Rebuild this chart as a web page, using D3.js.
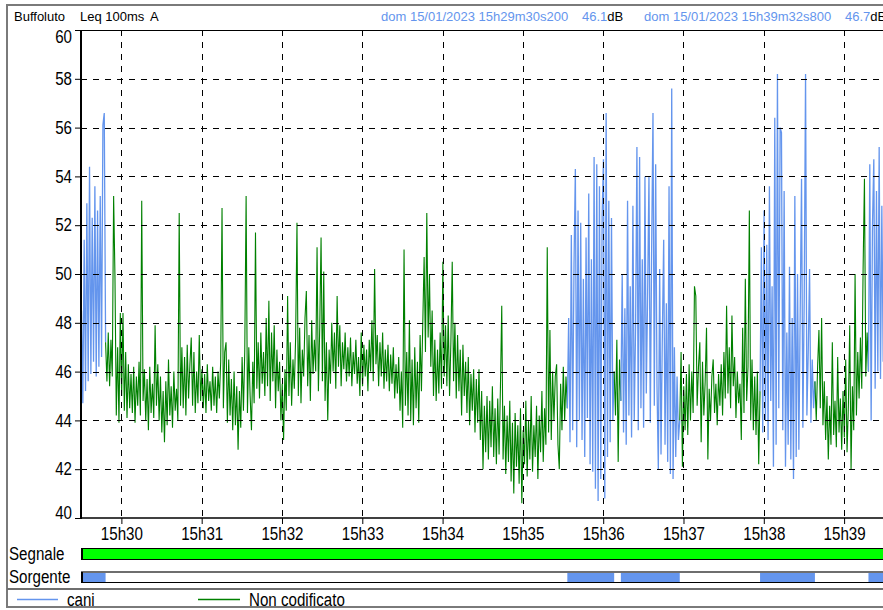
<!DOCTYPE html>
<html>
<head>
<meta charset="utf-8">
<script src="https://cdn.jsdelivr.net/npm/d3@7"></script>
<style>
  body { margin: 0; background: #fff; }
  svg { display: block; }
  .narrow { font-family: "Liberation Sans", Arial, sans-serif; }
</style>
</head>
<body>
<svg id="chart" width="883" height="610"></svg>
<script>
// time origin of the recording and its end (15h29m30s200 -> 15h39m32s800)
const startTime = new Date(2023, 0, 15, 15, 29, 30, 200);
const endTime = new Date(2023, 0, 15, 15, 39, 32, 800);

const yTicks = [40, 42, 44, 46, 48, 50, 52, 54, 56, 58, 60];

// segments: start in seconds from startTime, source category, 1 value per second (dB)
const segStart = [0, 18, 363, 398, 403, 447, 507, 548, 588];
const segCat = ["cani", "nc", "cani", "nc", "cani", "nc", "cani", "nc", "cani"];

const cani1 = [48.5, 44.7, 51.4, 45.2, 52.9, 45.6, 54.4, 45.9, 52.3, 46.4, 53.6, 45.8, 52.6, 46.2, 53.2, 46.6, 56.1, 56.6, 47.2];
const nonCod1 = [
  47.2, 45.6, 47.6, 45.4, 47.3, 45.8, 53.2, 49.9, 44.2, 47.0,
  43.9, 48.4, 45.0, 48.4, 44.4, 46.8, 44.1, 46.3, 44.5, 45.9,
  44.3, 46.2, 43.9, 45.8, 44.6, 46.4, 44.2, 53.0, 44.8, 46.1,
  44.0, 45.7, 43.6, 46.2, 44.3, 45.5, 44.1, 47.9, 44.6, 46.3,
  44.0, 45.8, 43.5, 45.2, 43.1, 45.6, 43.8, 46.5, 44.2, 45.4,
  43.7, 46.0, 44.4, 45.3, 44.0, 52.5, 44.6, 47.0, 44.5, 46.6,
  44.2, 47.1, 44.9, 46.3, 47.4, 44.6, 46.8, 44.3, 46.0, 44.7,
  47.5, 44.8, 46.1, 44.5, 45.9, 44.3, 46.3, 44.8, 45.6, 44.4,
  46.2, 44.6, 45.8, 44.3, 46.0, 44.9, 46.4, 52.7, 44.5, 46.8,
  47.2, 43.9, 46.5, 44.2, 45.7, 43.6, 46.0, 43.8, 45.4, 42.8,
  45.2, 43.7, 46.6, 44.4, 46.9, 53.2, 44.3, 47.0, 45.0, 43.6,
  46.4, 44.7, 51.7, 45.3, 47.2, 44.9, 47.6, 45.5, 46.8, 45.0,
  48.2, 45.4, 48.9, 44.8, 47.6, 45.6, 47.9, 44.5, 46.9, 45.2,
  46.4, 44.0, 45.5, 43.2, 46.1, 44.4, 49.1, 45.0, 47.2, 44.6,
  46.5, 45.3, 47.4, 52.1, 45.0, 47.8, 44.7, 46.9, 45.8, 48.2,
  49.3, 45.4, 47.5, 44.8, 48.1, 45.9, 47.3, 46.0, 51.1, 45.2,
  47.8, 51.5, 45.6, 50.1, 44.8, 47.2, 44.0, 46.9, 45.5, 48.0,
  46.0, 47.6, 45.3, 49.1, 46.2, 47.9, 45.4, 47.2, 46.1, 47.6,
  45.6, 47.0, 45.8, 47.4, 45.4, 46.8, 45.9, 47.3, 45.5, 46.6,
  45.0, 47.6, 45.4, 47.1, 45.8, 46.9, 45.2, 47.3, 46.0, 48.1,
  45.6, 50.2, 46.3, 47.5, 45.4, 47.2, 45.8, 47.6, 45.3, 46.9,
  45.6, 47.1, 45.2, 46.7, 45.5, 47.0, 44.9, 46.3, 45.1, 46.6,
  44.4, 46.0, 43.7, 51.0, 44.6, 46.8, 44.2, 48.1, 44.0, 46.5,
  43.8, 47.0, 44.5, 46.4, 43.9, 47.5, 45.2, 48.0, 50.7, 46.8,
  52.5, 47.4, 50.0, 46.2, 48.5, 45.0, 47.3, 44.8, 46.9, 45.1,
  47.6, 45.3, 50.5, 45.8, 47.9, 45.4, 48.3, 45.0, 47.2, 50.5,
  45.6, 48.0, 44.9, 47.5, 45.2, 46.9, 44.2, 47.1, 45.0, 46.4,
  44.3, 46.6, 43.8, 45.9, 44.4, 46.1, 43.5, 45.7, 43.9, 46.1,
  43.2, 45.2, 42.0, 44.6, 42.7, 45.0, 42.4, 44.8, 42.9, 45.4,
  42.5, 44.5, 42.2, 44.9, 42.6, 45.3, 48.7, 42.4, 44.6, 41.8,
  44.2, 42.3, 44.8, 41.5, 43.9, 41.0, 44.3, 42.1, 43.8, 41.4,
  44.5, 40.6, 43.6, 42.2, 44.8, 41.7, 44.0, 42.4, 45.0, 41.9,
  43.8, 42.5, 44.6, 41.6, 44.2, 42.7, 45.2, 42.3, 44.5, 43.0,
  51.1, 43.5, 47.7, 43.2, 46.0, 44.0, 45.8, 46.3, 43.0, 42.0,
  45.5, 43.6, 46.2, 44.0, 45.8, 44.5
];
const cani2 = [44.5, 48.2, 43.1, 51.6, 43.6, 50.4, 54.3, 42.9, 52.6, 44.0, 52.1, 43.2, 49.8, 42.5, 51.5, 44.1, 53.3, 42.2, 50.6, 41.9, 54.8, 41.2, 54.5, 40.7, 53.6, 41.6, 52.4, 54.7, 40.8, 56.6, 42.5, 53.0, 43.1, 52.3, 44.0, 46.0];
const nonCod2 = [46.0, 44.2, 47.3, 42.3, 46.5, 44.8];
const cani3 = [44.8, 50.0, 43.5, 48.6, 43.0, 53.0, 44.2, 49.5, 43.3, 52.8, 44.0, 47.8, 55.2, 43.6, 54.8, 44.5, 50.6, 43.7, 54.0, 45.1, 49.2, 54.0, 43.9, 51.0, 56.6, 44.6, 54.5, 45.4, 42.0, 50.2, 42.6, 47.5, 51.4, 43.0, 48.8, 42.3, 53.6, 41.8, 57.6, 41.6, 47.0, 42.5, 45.8, 43.2, 44.0];
const nonCod3 = [
  44.0, 46.8, 42.1, 45.4, 43.6, 45.9, 43.4, 46.3, 44.0, 46.0,
  44.3, 49.5, 49.1, 44.6, 46.2, 47.2, 43.1, 46.4, 44.2, 45.6,
  47.8, 42.4, 45.3, 44.0, 45.8, 46.5, 44.3, 45.5, 43.8, 45.9,
  44.6, 46.3, 44.2, 46.8, 44.9, 48.7, 45.1, 47.0, 44.5, 48.3,
  45.4, 46.6, 44.1, 46.0, 44.7, 45.5, 43.2, 47.8, 44.3, 49.8,
  44.8, 46.2, 52.6, 44.0, 46.5, 43.6, 45.8, 43.4, 46.0, 42.2,
  45.2
];
const cani4 = [45.2, 51.1, 43.5, 52.6, 44.0, 51.2, 43.2, 53.6, 44.8, 49.5, 42.1, 56.4, 43.0, 58.2, 44.5, 56.0, 55.8, 43.6, 53.4, 42.1, 47.6, 43.0, 50.3, 42.4, 48.2, 41.6, 53.2, 42.5, 50.0, 42.8, 48.5, 53.9, 43.7, 49.0, 58.2, 44.2, 46.8, 50.2, 43.9, 46.5, 44.5, 45.6];
const nonCod4 = [45.6, 44.0, 46.2, 47.7, 44.5, 48.2, 43.8, 45.6, 43.2, 45.0, 42.4, 44.6, 43.0, 47.2, 43.4, 44.8, 42.9, 46.6, 43.5, 44.9, 42.8, 45.2, 43.3, 46.5, 42.7, 44.6, 47.9, 42.0, 45.4, 43.6, 50.0, 44.2, 46.8, 44.9, 47.4, 45.3, 50.2, 53.9, 45.8, 47.6, 46.0];
const cani5 = [46.0, 54.5, 44.0, 52.0, 54.7, 45.3, 53.4, 46.0, 55.2, 45.7, 52.8, 46.4, 56.2, 47.0, 57.1];

const segValues = [cani1, nonCod1, cani2, nonCod2, cani3, nonCod3, cani4, nonCod4, cani5];

const colors = { cani: "#6495ed", nc: "#008000" };

const svg = d3.select("#chart");
const pLeft = 81, pTop = 30, pBottom = 518, pRight = 883;

const x = d3.scaleTime().domain([startTime, endTime]).range([81.5, 888]);
const y = d3.scaleLinear().domain([40, 60]).range([pBottom, pTop]);
const at = s => new Date(startTime.getTime() + s * 1000);

// outer frame
svg.append("rect").attr("x", 7).attr("y", 5).attr("width", 895).attr("height", 602)
  .attr("fill", "none").attr("stroke", "#7a7a7a").attr("stroke-width", 2);

// header
const hdr = svg.append("g").attr("font-family", "Liberation Sans, Arial, sans-serif").attr("font-size", 13);
hdr.append("text").attr("x", 14).attr("y", 21).attr("fill", "#000").text("Buffoluto");
hdr.append("text").attr("x", 80).attr("y", 21).attr("fill", "#000").text("Leq 100ms");
hdr.append("text").attr("x", 150).attr("y", 21).attr("fill", "#000").text("A");
hdr.append("text").attr("x", 381).attr("y", 21).attr("fill", "#6495ed").text("dom 15/01/2023 15h29m30s200");
hdr.append("text").attr("x", 582).attr("y", 21).attr("fill", "#6495ed").text("46.1")
  .append("tspan").attr("fill", "#000").text("dB");
hdr.append("text").attr("x", 644).attr("y", 21).attr("fill", "#6495ed").text("dom 15/01/2023 15h39m32s800");
hdr.append("text").attr("x", 845).attr("y", 21).attr("fill", "#6495ed").text("46.7")
  .append("tspan").attr("fill", "#000").text("dB");

// clip for the plot
svg.append("clipPath").attr("id", "plotClip").append("rect")
  .attr("x", pLeft).attr("y", pTop).attr("width", pRight - pLeft).attr("height", pBottom - pTop);

const plot = svg.append("g").attr("clip-path", "url(#plotClip)");
const line = d3.line().x(d => x(d.t)).y(d => y(d.v));

segValues.forEach((vals, i) => {
  const pts = vals.map((v, k) => ({ t: at(segStart[i] + k), v: v }));
  plot.append("path").datum(pts).attr("d", line)
    .attr("fill", "none").attr("stroke", colors[segCat[i]])
    .attr("stroke-width", segCat[i] === "cani" ? 1.3 : 1.1);
});

// grid (drawn over the data)
const minutes = d3.timeMinute.range(d3.timeMinute.ceil(startTime), endTime);
const grid = svg.append("g").attr("stroke", "#000").attr("stroke-dasharray", "6,6").attr("stroke-width", 1);
grid.selectAll("line.h").data(yTicks.filter(d => d > 40 && d < 60)).join("line")
  .attr("x1", pLeft).attr("x2", pRight).attr("y1", d => Math.round(y(d)) + 0.5).attr("y2", d => Math.round(y(d)) + 0.5);
grid.selectAll("line.v").data(minutes).join("line")
  .attr("y1", pTop).attr("y2", pBottom).attr("x1", d => Math.round(x(d)) + 0.5).attr("x2", d => Math.round(x(d)) + 0.5);

// frame of plot
svg.append("line").attr("x1", pLeft).attr("x2", pRight).attr("y1", pTop + 0.5).attr("y2", pTop + 0.5).attr("stroke", "#000");
svg.append("line").attr("x1", pLeft).attr("x2", pRight).attr("y1", pBottom).attr("y2", pBottom).attr("stroke", "#000").attr("stroke-width", 1.5);
svg.append("line").attr("x1", pLeft).attr("x2", pLeft).attr("y1", pTop).attr("y2", pBottom + 1).attr("stroke", "#000").attr("stroke-width", 2);

// y axis
const yAxis = d3.axisLeft(y).tickValues(yTicks).tickSize(5).tickPadding(3);
const yg = svg.append("g").attr("transform", `translate(${pLeft - 1},0)`).call(yAxis);
yg.select(".domain").remove();
yg.attr("font-family", null).attr("font-size", null);
yg.selectAll("text").attr("class", "narrow").attr("font-size", 18).attr("fill", "#000")
  .attr("dy", d => d === 60 ? "0.68em" : d === 40 ? "0.0em" : "0.32em");

// top ticks
svg.append("g").selectAll("line").data(minutes).join("line")
  .attr("x1", d => Math.round(x(d)) + 0.5).attr("x2", d => Math.round(x(d)) + 0.5)
  .attr("y1", pTop).attr("y2", pTop + 6).attr("stroke", "#000");

// x axis
const xAxis = d3.axisBottom(x).tickValues(minutes).tickFormat(d3.timeFormat("%Hh%M")).tickSize(6).tickPadding(3);
const xg = svg.append("g").attr("transform", `translate(0,${pBottom})`).call(xAxis);
xg.select(".domain").remove();
xg.attr("font-family", null).attr("font-size", null);
xg.selectAll("text").attr("class", "narrow").attr("font-size", 18).attr("fill", "#000");

// Segnale bar
const lbl = svg.append("g").attr("font-size", 18).attr("fill", "#000");
lbl.append("text").attr("class", "narrow").attr("x", 9).attr("y", 560).text("Segnale");
lbl.append("text").attr("class", "narrow").attr("x", 9).attr("y", 583).text("Sorgente");
svg.append("rect").attr("x", pLeft + 0.5).attr("y", 548.5).attr("width", 850).attr("height", 11)
  .attr("fill", "#00ff00").attr("stroke", "#000");
svg.append("line").attr("x1", pLeft + 1).attr("x2", pLeft + 1).attr("y1", 548).attr("y2", 560).attr("stroke", "#000").attr("stroke-width", 2);

// Sorgente bar
svg.append("line").attr("x1", pLeft).attr("x2", 900).attr("y1", 572).attr("y2", 572).attr("stroke", "#6e6e6e").attr("stroke-width", 2);
svg.append("line").attr("x1", pLeft).attr("x2", 900).attr("y1", 582.5).attr("y2", 582.5).attr("stroke", "#000");
svg.append("line").attr("x1", pLeft + 1).attr("x2", pLeft + 1).attr("y1", 572).attr("y2", 583).attr("stroke", "#000").attr("stroke-width", 2);
const caniSegs = segStart.map((s, i) => ({ s: s, e: s + segValues[i].length - 1, c: segCat[i] }))
  .filter(d => d.c === "cani");
svg.append("g").selectAll("rect").data(caniSegs).join("rect")
  .attr("x", d => Math.max(pLeft + 2, x(at(d.s)))).attr("y", 573)
  .attr("width", d => Math.min(x(at(d.e)), 900) - Math.max(pLeft + 2, x(at(d.s)))).attr("height", 9)
  .attr("fill", "#6495ed");

// legend
svg.append("line").attr("x1", 7).attr("x2", 890).attr("y1", 589).attr("y2", 589).attr("stroke", "#6e6e6e").attr("stroke-width", 2);
svg.append("line").attr("x1", 17).attr("x2", 58).attr("y1", 599.5).attr("y2", 599.5).attr("stroke", "#6495ed").attr("stroke-width", 1.5);
svg.append("line").attr("x1", 198).attr("x2", 240).attr("y1", 599.5).attr("y2", 599.5).attr("stroke", "#008000").attr("stroke-width", 1.5);
lbl.append("text").attr("class", "narrow").attr("x", 67).attr("y", 606).text("cani");
lbl.append("text").attr("class", "narrow").attr("x", 249).attr("y", 606).text("Non codificato");

// squeeze the large labels horizontally, like the narrow face of the original
svg.selectAll("text.narrow").each(function () {
  const w = this.getComputedTextLength();
  d3.select(this).attr("textLength", (w * 0.84).toFixed(1)).attr("lengthAdjust", "spacingAndGlyphs");
});
</script>
</body>
</html>
